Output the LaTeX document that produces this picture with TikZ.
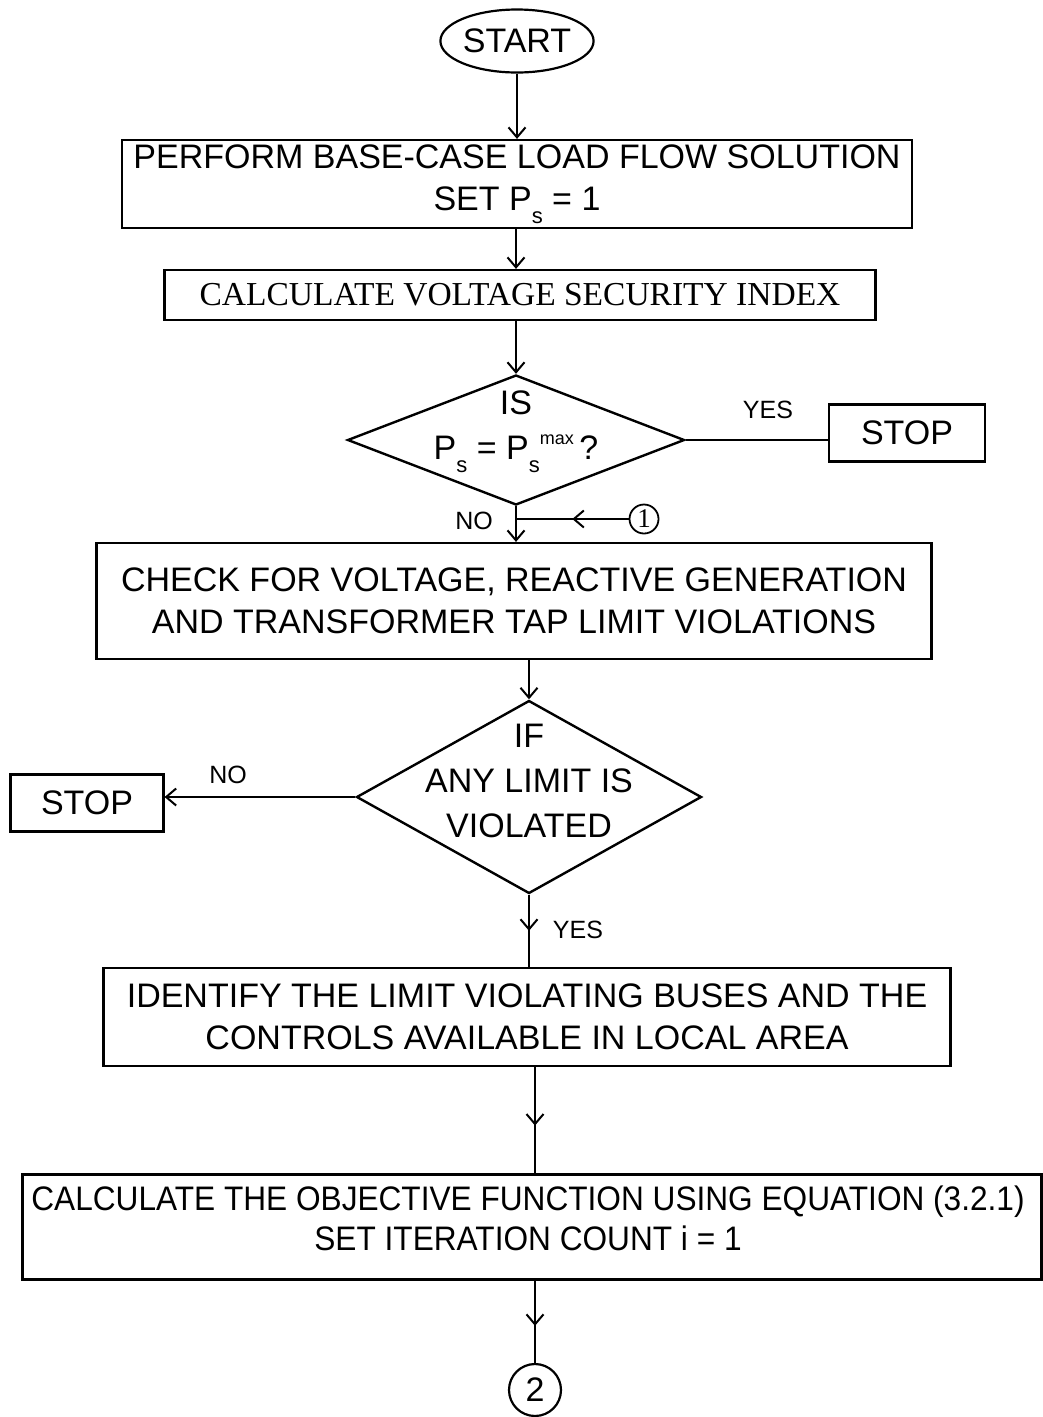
\documentclass[tikz,border=0pt]{standalone}
\usepackage{fontspec}
\setmainfont{Liberation Sans}
\newfontfamily\serifx{Liberation Serif}
\newfontfamily\narrowx[FakeStretch=0.93]{Liberation Sans}
\usetikzlibrary{shapes.geometric,arrows.meta,decorations.markings}
\newcommand{\mysub}[1]{\raisebox{-0.38em}{\fontsize{22}{22}\selectfont #1}}
\newcommand{\mysupx}[1]{\raisebox{0.45em}{\fontsize{18}{18}\selectfont #1}}
\begin{document}
\begin{tikzpicture}[x=1pt,y=-1pt,
  every node/.style={inner sep=0pt},
  box/.style={draw,line width=2.2pt,rectangle,align=center,font=\fontsize{34}{42}\selectfont},
  dia/.style={draw,line width=2.4pt,diamond,inner sep=0pt},
  txt/.style={align=center,font=\fontsize{34}{45}\selectfont},
  lbl/.style={font=\fontsize{25}{25}\selectfont},
  tip/.style={-{Straight Barb[length=10pt,width=17pt,line width=2pt]}},
  line/.style={line width=2.4pt},
  midarr/.style={line width=2.4pt,postaction={decorate},decoration={markings,mark=at position #1 with {\arrow{Straight Barb[length=10pt,width=17pt,line width=2pt]}}}},
  midarr/.default=0.5]
\useasboundingbox (0,0) rectangle (1043,1417);
% start
\node[draw,ellipse,line width=2.2pt,minimum width=128pt,minimum height=63pt,font=\fontsize{34}{34}\selectfont] (start) at (517,41) {START};
\node[box,minimum width=790pt,minimum height=88pt] (b1) at (517,184) {PERFORM BASE-CASE LOAD FLOW SOLUTION\\SET P\mysub{s} = 1};
\node[box,minimum width=711pt,minimum height=50pt,font=\serifx\fontsize{33.5}{33.5}\selectfont] (b2) at (520,295) {CALCULATE VOLTAGE SECURITY INDEX};
% diamond 1
\node[dia,minimum width=337pt,minimum height=130pt] (d1) at (516,440) {};
\node[txt] (d1t) at (516,432) {IS\\P\mysub{s} = P\mysub{s}\mysupx{max}\,?};
\node[box,minimum width=156pt,minimum height=57pt] (s1) at (907,433) {STOP};
\node[lbl] (yes1) at (768,410) {YES};
\node[lbl] (no1) at (474,521) {NO};
\node[draw,circle,line width=1.8pt,minimum size=29pt,font=\serifx\fontsize{27}{27}\selectfont] (c1) at (644,519) {1};
\node[box,minimum width=835pt,minimum height=116pt] (b3) at (514,601) {CHECK FOR VOLTAGE, REACTIVE GENERATION\\AND TRANSFORMER TAP LIMIT VIOLATIONS};
% diamond 2
\node[dia,minimum width=345pt,minimum height=193pt] (d2) at (529,797) {};
\node[txt] (d2t) at (529,781) {IF\\ANY LIMIT IS\\VIOLATED};
\node[box,minimum width=153pt,minimum height=57pt] (s2) at (87,803) {STOP};
\node[lbl] (no2) at (228,775) {NO};
\node[lbl] (yes2) at (578,930) {YES};
\node[box,minimum width=847pt,minimum height=98pt] (b4) at (527,1017) {IDENTIFY THE LIMIT VIOLATING BUSES AND THE\\CONTROLS AVAILABLE IN LOCAL AREA};
\node[draw,line width=2.2pt,rectangle,minimum width=1019pt,minimum height=105pt] (b5) at (532,1227) {};
\node[align=center,font=\narrowx\fontsize{34}{40}\selectfont] (b5t) at (528,1218) {CALCULATE THE OBJECTIVE FUNCTION USING EQUATION (3.2.1)\\SET ITERATION COUNT i = 1};
\node[draw,circle,line width=2.2pt,minimum size=52pt,font=\fontsize{34}{34}\selectfont] (c2) at (535,1390) {2};
% connectors
\draw[line,tip] (start.south) -- (start.south |- b1.north);
\draw[line,tip] (b1.south -| d1.north) -- (d1.north |- b2.north);
\draw[line,tip] (b2.south -| d1.north) -- (d1.north);
\draw[line] (d1.east) -- (s1.west |- d1.east);
\draw[line,tip] (d1.south) -- (d1.south |- b3.north);
\draw[midarr=0.5] (c1.west) -- (c1.west -| d1.south);
\draw[line,tip] (b3.south -| d2.north) -- (d2.north);
\draw[line,tip] (d2.west) -- (s2.east |- d2.west);
\draw[midarr=0.5] (d2.south) -- (d2.south |- b4.north);
\draw[midarr=0.55] (b4.south -| c2.north) -- (c2.north |- b5.north);
\draw[midarr=0.55] (b5.south -| c2.north) -- (c2.north);
\end{tikzpicture}
\end{document}
